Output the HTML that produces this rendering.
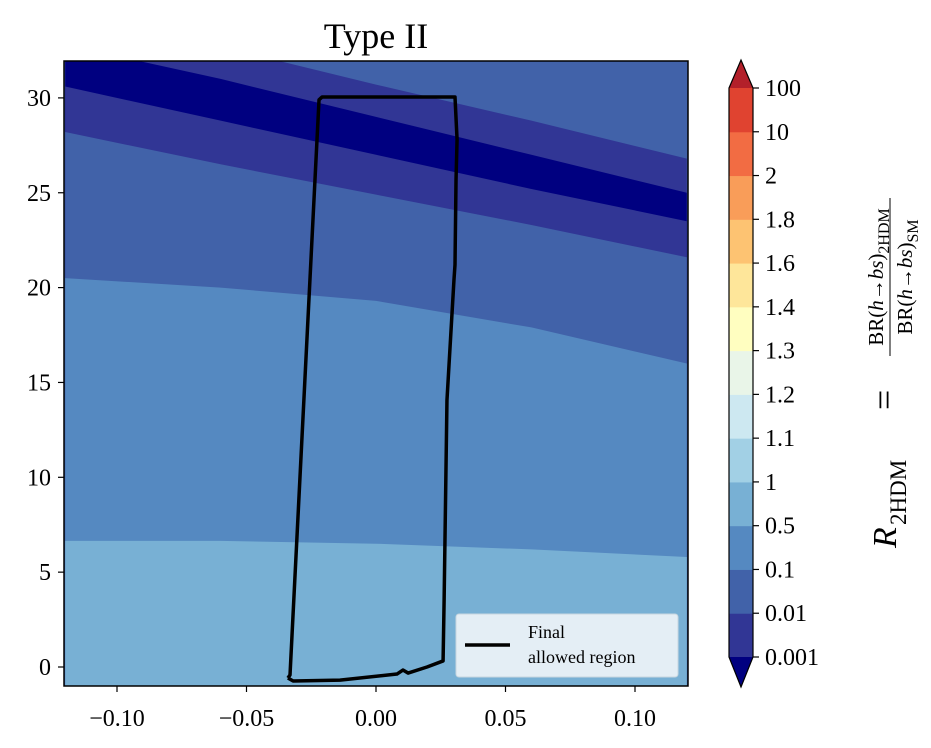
<!DOCTYPE html>
<html><head><meta charset="utf-8"><style>
body{margin:0;background:#fff;}
svg{display:block;font-family:"Liberation Serif",serif;}
</style></head><body>
<svg id="chart" width="931" height="748" viewBox="0 0 931 748" xmlns="http://www.w3.org/2000/svg">
<defs><clipPath id="pc"><rect x="64" y="61" width="624" height="625"/></clipPath></defs>
<text x="376" y="48" font-size="36" text-anchor="middle">Type II</text>
<g id="bands" clip-path="url(#pc)"></g>
<g id="outline" clip-path="url(#pc)"></g>
<rect x="64" y="61" width="624" height="625" fill="none" stroke="#000" stroke-width="1.5"/>
<g id="xaxis"></g>
<g id="yaxis"></g>
<g>
<rect x="456" y="614" width="222" height="63" rx="3" fill="#e4eef5" stroke="#c8d6df" stroke-width="1"/>
<line x1="465" y1="645" x2="510" y2="645" stroke="#000" stroke-width="3.5"/>
<text x="528" y="638" font-size="18">Final</text>
<text x="528" y="663" font-size="18">allowed region</text>
</g>
<g id="cbar"></g>
<g transform="translate(900,380) rotate(-90)">
<text x="-168" y="-4" font-size="34" font-style="italic">R</text>
<text x="-145" y="6" font-size="23">2HDM</text>
<text x="-30" y="-4" font-size="36">=</text>
<text x="103" y="-17" font-size="21" text-anchor="middle">BR(<tspan font-style="italic">h</tspan>→<tspan font-style="italic">bs</tspan>)<tspan font-size="16" dy="6">2HDM</tspan></text>
<line x1="24" y1="-10" x2="182" y2="-10" stroke="#000" stroke-width="1"/>
<text x="103" y="12" font-size="21" text-anchor="middle">BR(<tspan font-style="italic">h</tspan>→<tspan font-style="italic">bs</tspan>)<tspan font-size="16" dy="6">SM</tspan></text>
</g>
</svg>
<script>
const NS="http://www.w3.org/2000/svg";
// data
const sampleX=[-0.12,-0.06,0,0.06,0.12];
const darkTopY=[34.7,32.7,30.7,28.8,26.8];
const navyTopY=[32.8,31.0,29.0,27.0,25.0];
const navyBottomY=[30.6,28.8,27.0,25.2,23.5];
const darkBottomY=[28.2,26.5,24.9,23.3,21.6];
const blueBottomY=[20.5,20.0,19.3,17.9,16.0];
const mediumBottomY=[6.65,6.65,6.5,6.2,5.8];
const outlineX=[-0.0340,-0.0320,-0.0139,0.0081,0.0104,0.0124,0.0197,0.0259,0.0263,0.0274,0.0301,0.0305,0.0309,0.0313,0.0305,-0.0208,-0.0220,-0.0332,-0.0340];
const outlineY=[-0.58,-0.74,-0.69,-0.37,-0.16,-0.32,0.0,0.32,3.53,14.07,20.4,21.2,25.7,27.8,30.05,30.05,29.9,-0.42,-0.58];
const xTicks=[-0.10,-0.05,0.00,0.05,0.10];
const xTickLabels=["−0.10","−0.05","0.00","0.05","0.10"];
const yTicks=[0,5,10,15,20,25,30];
const yTickLabels=["0","5","10","15","20","25","30"];
const cbarLevels=["0.001","0.01","0.1","0.5","1","1.1","1.2","1.3","1.4","1.6","1.8","2","10","100"];
const cbarColors=["#313695","#4162a9","#5589c1","#78b0d4","#a2d0e5","#cde8f1","#e9f5e8","#fffec0","#fee69a","#fdc372","#f99d59","#f26c43","#e04330"];
const bandColors=["#4162a9","#313695","#000080","#313695","#4162a9","#5589c1","#78b0d4"];

const X=v=>376+v*2590, Y=v=>667-v*18.97;
function mk(tag,attrs,parent){const e=document.createElementNS(NS,tag);for(const k in attrs)e.setAttribute(k,attrs[k]);parent.appendChild(e);return e;}

const bands=document.getElementById('bands');
const bg=mk('rect',{x:64,y:61,width:624,height:625,fill:bandColors[0]},bands);


const bounds=[darkTopY,navyTopY,navyBottomY,darkBottomY,blueBottomY,mediumBottomY];
bounds.forEach((b,i)=>{
  let d='M'+X(sampleX[0])+','+Y(b[0]);
  for(let j=1;j<sampleX.length;j++)d+=' L'+X(sampleX[j])+','+Y(b[j]);
  d+=' L'+X(0.12)+',700 L'+X(-0.12)+',700 Z';
  const p=mk('path',{d:d,fill:bandColors[i+1]},bands);
  
  
});

const ol=document.getElementById('outline');
let od='';outlineX.forEach((v,i)=>{od+=(i?' L':'M')+X(v)+','+Y(outlineY[i]);});
const op=mk('path',{d:od,fill:'none',stroke:'#000','stroke-width':3.5,'stroke-linejoin':'round'},ol);



const xa=document.getElementById('xaxis');
xTicks.forEach((t,i)=>{
  const l=mk('line',{x1:X(t),x2:X(t),y1:686,y2:692,stroke:'#000','stroke-width':1.2},xa);
  
  
  const tx=mk('text',{x:X(t),y:726,'font-size':24,'text-anchor':'middle'},xa);
  tx.textContent=xTickLabels[i];
  
  
});
const ya=document.getElementById('yaxis');
yTicks.forEach((t,i)=>{
  const l=mk('line',{x1:58,x2:64,y1:Y(t),y2:Y(t),stroke:'#000','stroke-width':1.2},ya);
  
  
  const tx=mk('text',{x:51,y:Y(t)+8,'font-size':24,'text-anchor':'end'},ya);
  tx.textContent=yTickLabels[i];
  
  
});

const cb=document.getElementById('cbar');
const cTop=88,cBot=657,cx0=729,cx1=753,step=(cBot-cTop)/(cbarLevels.length-1);
cbarColors.forEach((c,i)=>{
  const r=mk('rect',{x:cx0,y:cBot-(i+1)*step,width:cx1-cx0,height:step+0.5,fill:c},cb);
  
  
});
const tu=mk('path',{d:`M${cx0},${cTop} L${(cx0+cx1)/2},60 L${cx1},${cTop} Z`,fill:'#b3202a'},cb);


const td=mk('path',{d:`M${cx0},${cBot} L${(cx0+cx1)/2},687 L${cx1},${cBot} Z`,fill:'#000080'},cb);


const fr=mk('path',{d:`M${cx0},${cTop} L${(cx0+cx1)/2},60 L${cx1},${cTop} L${cx1},${cBot} L${(cx0+cx1)/2},687 L${cx0},${cBot} Z`,fill:'none',stroke:'#000','stroke-width':1.2},cb);


cbarLevels.forEach((lv,i)=>{
  const y=cBot-i*step;
  const l=mk('line',{x1:cx1,x2:cx1+6,y1:y,y2:y,stroke:'#000','stroke-width':1.2},cb);
  
  
  const tx=mk('text',{x:765,y:y+8,'font-size':24},cb);
  tx.textContent=lv;
  
  
});
</script>
</body></html>
